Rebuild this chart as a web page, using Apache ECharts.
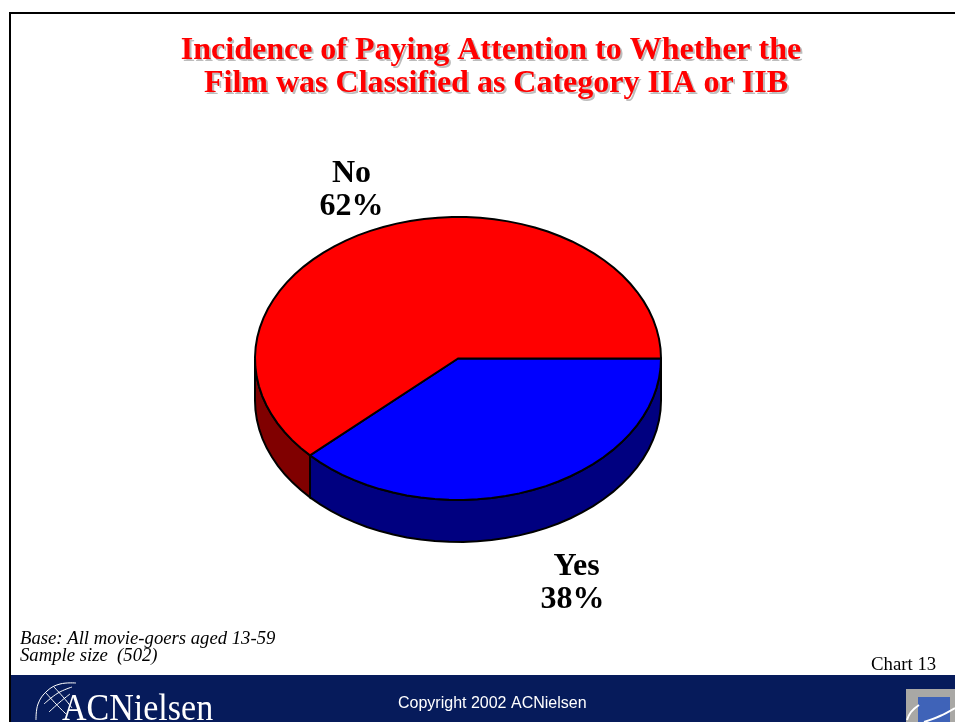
<!DOCTYPE html>
<html><head><meta charset="utf-8">
<style>html,body{margin:0;padding:0;background:#fff}#c{width:955px;height:722px}</style>
<script src="https://cdn.jsdelivr.net/npm/echarts@6/dist/echarts.min.js"></script>
</head><body><div id="c"></div>
<script>
const categories = ['Yes', 'No'];
const shares = [38, 62];
const titleLines = ['Incidence of Paying Attention to Whether the', 'Film was Classified as Category IIA or IIB'];
const notes = ['Base: All movie-goers aged 13-59', 'Sample size  (502)'];
const chartNo = 'Chart 13';
const copyright = 'Copyright 2002 ACNielsen';
const brand = 'ACNielsen';

const topColors = ['#0000ff', '#ff0000'];
const sideColors = ['#000080', '#800000'];
const labelAt = [[572.5, 583.5], [351.5, 190.5]];
const labelPad = ['\u00a0', ''];
const cx = 458, cy = 358.5, rx = 203, ry = 141.5, depth = 42, facet = 4;
const total = shares.reduce((a, b) => a + b, 0);

function pt(deg, dy) {
  const t = deg * Math.PI / 180;
  return [cx + rx * Math.cos(t), cy + ry * Math.sin(t) + (dy || 0)];
}
function arc(a0, a1, dy) {
  const out = [];
  const n = Math.max(1, Math.round((a1 - a0) / facet));
  for (let i = 0; i <= n; i++) out.push(pt(a0 + (a1 - a0) * i / n, dy));
  return out;
}
const edge = { stroke: '#000', lineWidth: 2, lineJoin: 'miter' };

function renderSlice(params, api) {
  const i = params.dataIndex;
  const before = shares.slice(0, i).reduce((a, b) => a + b, 0);
  const a0 = before / total * 360;
  const a1 = (before + api.value(0)) / total * 360;
  const children = [];
  const f0 = Math.max(a0, 0), f1 = Math.min(a1, 180);
  if (f1 > f0) {
    const pts = arc(f0, f1, 0).concat(arc(f0, f1, depth).reverse());
    children.push({ type: 'polygon', shape: { points: pts }, style: Object.assign({ fill: sideColors[i] }, edge) });
  }
  children.push({
    type: 'polygon',
    shape: { points: [[cx, cy]].concat(arc(a0, a1, 0)) },
    style: Object.assign({ fill: topColors[i] }, edge)
  });
  children.push({
    type: 'text',
    style: {
      x: labelAt[i][0], y: labelAt[i][1],
      text: labelPad[i] + categories[i] + '\n' + api.value(0) + '%',
      font: 'bold 32px "Liberation Serif"', lineHeight: 33,
      fill: '#000', align: 'center', verticalAlign: 'middle'
    }
  });
  return { type: 'group', children };
}

function txt(x, y, text, font, fill, extra) {
  return { type: 'text', z: 10, style: Object.assign({ x, y, text, font, fill, verticalAlign: 'middle' }, extra || {}) };
}
function line(points, width, color, z) {
  return { type: 'polyline', z: z || 9, shape: { points, smooth: 0.4 }, style: { fill: 'none', stroke: color || '#fff', lineWidth: width } };
}
const titleFont = 'bold 32px "Liberation Serif"';
const brandText = txt(0, 0, brand, '38px "Liberation Serif"', '#fff');
brandText.x = 62; brandText.y = 710; brandText.scaleX = 0.895;
const graphics = [
  { type: 'rect', shape: { x: 9, y: 12, width: 946, height: 2 }, style: { fill: '#000' } },
  { type: 'rect', shape: { x: 9, y: 12, width: 2, height: 710 }, style: { fill: '#000' } },
  { type: 'rect', shape: { x: 11, y: 675, width: 944, height: 47 }, style: { fill: '#061b5b' } },
  txt(493, 53, titleLines[0], titleFont, '#bdbdbd', { align: 'center' }),
  txt(498, 86, titleLines[1], titleFont, '#bdbdbd', { align: 'center' }),
  txt(491, 51, titleLines[0], titleFont, '#ff0000', { align: 'center' }),
  txt(496, 84, titleLines[1], titleFont, '#ff0000', { align: 'center' }),
  txt(20, 639, notes[0], 'italic 18.7px "Liberation Serif"', '#000'),
  txt(20, 656, notes[1], 'italic 18.7px "Liberation Serif"', '#000'),
  txt(871, 665, chartNo, '18.8px "Liberation Serif"', '#000'),
  txt(398, 704, copyright, '16px "Liberation Sans"', '#fff'),
  brandText,
  line([[36, 720], [38, 704], [47, 691], [60, 684], [76, 683]], 1),
  line([[44, 704], [58, 693], [72, 687]], 1),
  line([[49, 712], [60, 702], [70, 694]], 1),
  line([[46, 693], [56, 704], [66, 714]], 1),
  line([[54, 687], [64, 698], [72, 708]], 1),
  { type: 'rect', shape: { x: 906, y: 689, width: 49, height: 33 }, style: { fill: '#a9a8a5' }, z: 9 },
  { type: 'rect', shape: { x: 918, y: 697, width: 32, height: 25 }, style: { fill: '#3f63b8' }, z: 10 },
  line([[907, 720], [911, 712], [919, 705]], 2, '#fff', 11),
  line([[924, 722], [940, 716], [955, 708]], 2, '#fff', 11)
];

const chart = echarts.init(document.getElementById('c'), null, { renderer: 'canvas' });
chart.setOption({
  animation: false,
  backgroundColor: '#fff',
  graphic: graphics,
  series: [{
    type: 'custom',
    coordinateSystem: 'none',
    renderItem: renderSlice,
    data: shares.map((v, i) => ({ name: categories[i], value: [v] }))
  }]
});
</script></body></html>
